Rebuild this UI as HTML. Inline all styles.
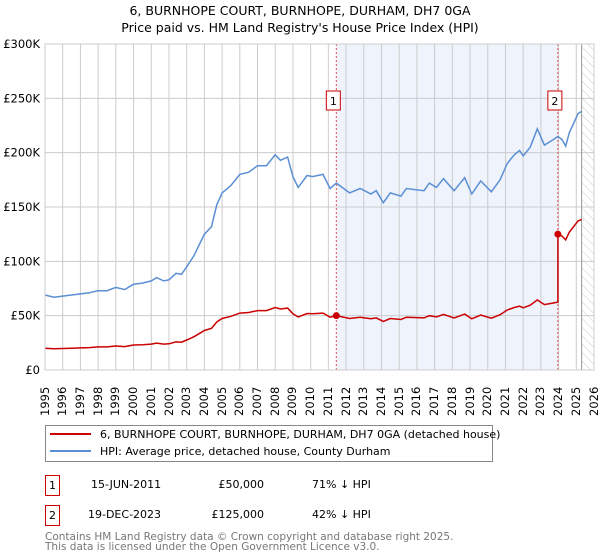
<!DOCTYPE html>
<html><head><meta charset="utf-8">
<style>
body{margin:0;background:#fff;font-family:"Liberation Sans","DejaVu Sans",sans-serif;}
#wrap{position:relative;width:600px;height:560px;overflow:hidden;}
svg text{font-family:"DejaVu Sans","Liberation Sans",sans-serif;}
.xl{position:absolute;width:13px;height:40px;line-height:13px;font-size:11.5px;writing-mode:vertical-rl;text-align:left;transform:rotate(180deg);transform-origin:50% 50%;font-family:"DejaVu Sans","Liberation Sans",sans-serif;white-space:nowrap;}
</style></head>
<body>
<div id="wrap">
<svg id="chart" width="600" height="560" viewBox="0 0 600 560" xmlns="http://www.w3.org/2000/svg" style="position:absolute;left:0;top:0">
<defs>
<pattern id="hatch" patternUnits="userSpaceOnUse" width="6" height="6" patternTransform="rotate(-45)">
<line x1="0" y1="0" x2="0" y2="6" stroke="#ccc" stroke-width="1"/>
</pattern>
</defs>
<text x="300" y="15" text-anchor="middle" font-size="12.5">6, BURNHOPE COURT, BURNHOPE, DURHAM, DH7 0GA</text>
<text x="300" y="32" text-anchor="middle" font-size="12.5">Price paid vs. HM Land Registry's House Price Index (HPI)</text>
<g id="plot"></g>
<g>
<rect x="45.5" y="425.5" width="447" height="36" fill="#fff" stroke="#888"/>
<line x1="50" y1="434" x2="91" y2="434" stroke="#cc0000" stroke-width="2"/>
<text x="100" y="438" font-size="11">6, BURNHOPE COURT, BURNHOPE, DURHAM, DH7 0GA (detached house)</text>
<line x1="50" y1="451" x2="91" y2="451" stroke="#5b8fd4" stroke-width="2"/>
<text x="100" y="455" font-size="11">HPI: Average price, detached house, County Durham</text>
</g>
<g font-size="11">
<rect x="45.5" y="475.5" width="14" height="20" fill="#fff" stroke="#cc0000"/>
<text x="52.5" y="489" text-anchor="middle">1</text>
<text x="91" y="488">15-JUN-2011</text>
<text x="264" y="488" text-anchor="end">£50,000</text>
<text x="312" y="488">71% ↓ HPI</text>
</g>
<g font-size="11">
<rect x="45.5" y="505.5" width="14" height="20" fill="#fff" stroke="#cc0000"/>
<text x="52.5" y="519" text-anchor="middle">2</text>
<text x="88" y="518">19-DEC-2023</text>
<text x="264" y="518" text-anchor="end">£125,000</text>
<text x="312" y="518">42% ↓ HPI</text>
</g>
<text x="45" y="540" font-size="10.5" fill="#777">Contains HM Land Registry data © Crown copyright and database right 2025.</text>
<text x="45" y="550" font-size="10.5" fill="#777">This data is licensed under the Open Government Licence v3.0.</text>
</svg>
</div>
<script>
const hpiYears=[1995,1995.5,1996,1996.5,1997,1997.5,1998,1998.5,1999,1999.5,2000,2000.5,2001,2001.3,2001.7,2002,2002.4,2002.7,2003,2003.4,2003.7,2004,2004.4,2004.7,2005,2005.5,2006,2006.5,2007,2007.5,2008,2008.3,2008.7,2009,2009.3,2009.8,2010.1,2010.7,2011.1,2011.45,2012.2,2012.8,2013.4,2013.7,2014.1,2014.5,2015.1,2015.4,2016.4,2016.7,2017.1,2017.5,2018.1,2018.7,2019.1,2019.6,2020.2,2020.7,2021.1,2021.5,2021.8,2022.0,2022.4,2022.8,2023.2,2023.7,2023.96,2024.2,2024.4,2024.6,2025.1,2025.3];
const hpiValues=[69,67,68,69,70,71,73,73,76,74,79,80,82,85,82,83,89,88,95,105,115,125,132,152,163,170,180,182,188,188,198,193,196,178,168,179,178,180,167,172,163,167,162,165,154,163,160,167,165,172,168,176,165,177,162,174,164,175,190,198,202,197,205,222,207,212,215,212,206,218,236,238];
const saleYears=[2011.45,2023.96];
const salePrices=[50,125];
const yTicks=[0,50,100,150,200,250,300];
const yTickLabels=["£0","£50K","£100K","£150K","£200K","£250K","£300K"];
const xTicks=[];for(let y=1995;y<=2026;y++)xTicks.push(y);

const X0=45,X1=594,Y0=370,Y1=44;
const xs=y=>X0+(y-1995)*(X1-X0)/31;
const ys=v=>Y0-v*(Y0-Y1)/300;
const NS="http://www.w3.org/2000/svg";
const g=document.getElementById('plot');
const wrap=document.getElementById('wrap');
function mk(tag,attrs,parent){const e=document.createElementNS(NS,tag);for(const k in attrs)e.setAttribute(k,attrs[k]);(parent||g).appendChild(e);return e;}
function hpiAt(t){for(let i=0;i<hpiYears.length-1;i++){if(t>=hpiYears[i]&&t<=hpiYears[i+1]){const f=(t-hpiYears[i])/(hpiYears[i+1]-hpiYears[i]);return hpiValues[i]+f*(hpiValues[i+1]-hpiValues[i]);}}return hpiValues[hpiValues.length-1];}

const band=mk('rect',{x:xs(saleYears[0]),y:Y1,width:xs(saleYears[1])-xs(saleYears[0]),height:Y0-Y1,fill:'#eef3fc'});


const lastY=hpiYears[hpiYears.length-1];
const hatch=mk('rect',{x:xs(lastY),y:Y1,width:X1-xs(lastY),height:Y0-Y1,fill:'url(#hatch)'});



xTicks.forEach(t=>{
 const l=mk('line',{x1:xs(t),x2:xs(t),y1:Y1,y2:Y0,stroke:'#cccccc','stroke-width':1});
 
 
 const dv=document.createElement('div');
 dv.className='xl';
 dv.style.left=(xs(t)-6.5).toFixed(1)+'px';
 dv.style.top='376px';
 dv.textContent=t;
 
 
 wrap.appendChild(dv);
});
yTicks.forEach((v,i)=>{
 const l=mk('line',{x1:X0,x2:X1,y1:ys(v),y2:ys(v),stroke:'#cccccc','stroke-width':1});
 
 
 const tx=mk('text',{x:40,y:ys(v)+4,'font-size':11.5,'text-anchor':'end'});
 tx.textContent=yTickLabels[i];
 
 
});
const edge=mk('line',{x1:xs(lastY),x2:xs(lastY),y1:Y1,y2:Y0,stroke:'#999','stroke-width':1});



saleYears.forEach((s,i)=>{
 const l=mk('line',{x1:xs(s),x2:xs(s),y1:Y1,y2:Y0,stroke:'#e05050','stroke-width':1,'stroke-dasharray':'2,2'});
 
 
 const bx=mk('rect',{x:xs(s)-10,y:91,width:14,height:19,fill:'#fff',stroke:'#cc0000'});
 
 
 const tx=mk('text',{x:xs(s)-3,y:105,'font-size':11,'text-anchor':'middle'});
 tx.textContent=String(i+1);
 
 
});

const hp=mk('path',{d:hpiYears.map((y,i)=>(i?'L':'M')+xs(y).toFixed(1)+','+ys(hpiValues[i]).toFixed(1)).join(''),fill:'none',stroke:'#5b8fd4','stroke-width':1.5});



const r1=salePrices[0]/hpiAt(saleYears[0]),r2=salePrices[1]/hpiAt(saleYears[1]);
let d='';
hpiYears.forEach((y,i)=>{
 if(y<saleYears[1]){d+=(d?'L':'M')+xs(y).toFixed(1)+','+ys(hpiValues[i]*r1).toFixed(1);}
});
d+='L'+xs(saleYears[1]).toFixed(1)+','+ys(hpiAt(saleYears[1])*r1).toFixed(1);
hpiYears.forEach((y,i)=>{
 if(y>=saleYears[1]){d+='L'+xs(y).toFixed(1)+','+ys(hpiValues[i]*r2).toFixed(1);}
});
const pp=mk('path',{d:d,fill:'none',stroke:'#cc0000','stroke-width':1.5});


saleYears.forEach((s,i)=>{
 const c=mk('circle',{cx:xs(s),cy:ys(salePrices[i]),r:3.5,fill:'#cc0000'});
 
 
});
const frame=mk('rect',{x:X0,y:Y1,width:X1-X0,height:Y0-Y1,fill:'none',stroke:'#cccccc'});


</script>
</body></html>
